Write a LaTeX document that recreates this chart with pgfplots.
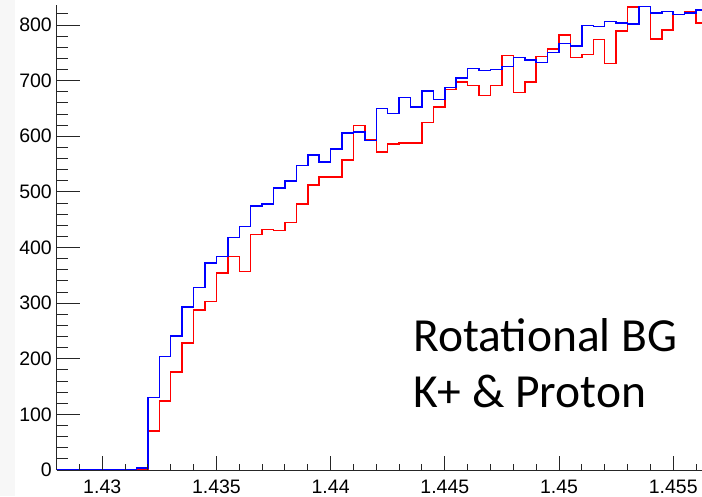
\documentclass[border=0pt]{standalone}
\usepackage{pgfplots}
\pgfplotsset{compat=1.18}
\usepackage{fontspec}
\setmainfont{Liberation Sans}
\newfontfamily\calibri{Carlito}

\begin{document}
\begin{tikzpicture}[x=1pt,y=1pt]
\useasboundingbox (0,0) rectangle (702,496);
\fill[black!3] (0,0) rectangle (15,496);
% main axis: data, y ticks
\begin{axis}[
  at={(57pt,26pt)}, anchor=south west,
  scale only axis, width=645pt, height=465pt,
  xmin=1.42802, xmax=1.45626, ymin=0, ymax=836,
  axis x line=bottom, axis y line=left,
  axis line style={-, line width=1pt, black!85},
  tick align=inside,
  xtick=\empty,
  ytick={0,100,...,800},
  minor ytick={0,20,...,820},
  major tick length=23pt, minor tick length=11pt,
  tick style={line width=1pt, black!85},
  /pgf/number format/assume math mode=true,
  yticklabel style={font=\fontsize{19.5}{20}\selectfont, anchor=east, inner sep=0pt, xshift=-5pt},
  clip=true,
]
\addplot[red, line width=1.5pt, const plot, mark=none] coordinates {
(1.4280,0) (1.4285,0) (1.4290,0) (1.4295,0) (1.4300,0) (1.4305,0) (1.4310,0) (1.4315,0)
(1.4320,70) (1.4325,124) (1.4330,176) (1.4335,228) (1.4340,288) (1.4345,303)
(1.4350,354) (1.4355,384) (1.4360,357) (1.4365,423) (1.4370,432) (1.4375,431)
(1.4380,445) (1.4385,478) (1.4390,512) (1.4395,527) (1.4400,527) (1.4405,557)
(1.4410,619) (1.4415,593) (1.4420,572) (1.4425,586) (1.4430,588) (1.4435,588)
(1.4440,625) (1.4445,653) (1.4450,684) (1.4455,698) (1.4460,691) (1.4465,673)
(1.4470,691) (1.4475,745) (1.4480,679) (1.4485,698) (1.4490,743) (1.4495,757)
(1.4500,782) (1.4505,742) (1.4510,747) (1.4515,774) (1.4520,731) (1.4525,789)
(1.4530,832) (1.4535,833) (1.4540,775) (1.4545,791) (1.4550,819) (1.4555,823)
(1.4560,804) (1.4565,804)
};
\addplot[blue, line width=1.5pt, const plot, mark=none] coordinates {
(1.4280,0) (1.4285,0) (1.4290,0) (1.4295,0) (1.4300,0) (1.4305,0) (1.4310,0) (1.4315,4)
(1.4320,130) (1.4325,204) (1.4330,241) (1.4335,293) (1.4340,328) (1.4345,372)
(1.4350,384) (1.4355,418) (1.4360,438) (1.4365,475) (1.4370,478) (1.4375,507)
(1.4380,520) (1.4385,547) (1.4390,566) (1.4395,554) (1.4400,577) (1.4405,606)
(1.4410,608) (1.4415,592) (1.4420,650) (1.4425,641) (1.4430,670) (1.4435,653)
(1.4440,681) (1.4445,666) (1.4450,688) (1.4455,705) (1.4460,722) (1.4465,718)
(1.4470,720) (1.4475,725) (1.4480,742) (1.4485,737) (1.4490,733) (1.4495,751)
(1.4500,767) (1.4505,762) (1.4510,799) (1.4515,797) (1.4520,806) (1.4525,804)
(1.4530,802) (1.4535,833) (1.4540,822) (1.4545,824) (1.4550,819) (1.4555,822)
(1.4560,827) (1.4565,827)
};
\end{axis}
% second axis: x ticks only
\begin{axis}[
  at={(57pt,26pt)}, anchor=south west,
  scale only axis, width=645pt, height=465pt,
  xmin=1.42802, xmax=1.45626, ymin=0, ymax=836,
  axis x line=bottom, axis y line=none,
  axis line style={-, line width=1pt, black!85},
  tick align=inside,
  ytick=\empty,
  xtick={1.43,1.435,1.44,1.445,1.45,1.455},
  xticklabels={1.43,1.435,1.44,1.445,1.45,1.455},
  minor xtick={1.428,1.429,1.431,1.432,1.433,1.434,1.436,1.437,1.438,1.439,1.441,1.442,1.443,1.444,1.446,1.447,1.448,1.449,1.451,1.452,1.453,1.454,1.456},
  major tick length=14pt, minor tick length=6pt,
  tick style={line width=1pt, black!85},
  scaled x ticks=false,
  xticklabel style={font=\fontsize{19.5}{20}\selectfont, anchor=north, inner sep=0pt, yshift=-10pt},
]
\end{axis}
\node[anchor=base west, inner sep=0pt, font=\calibri\fontsize{47.5}{50}\selectfont] at (413,144) {Rotational BG};
\node[anchor=base west, inner sep=0pt, font=\calibri\fontsize{47.5}{50}\selectfont] at (413,89) {K+ \& Proton};
\end{tikzpicture}
\end{document}
